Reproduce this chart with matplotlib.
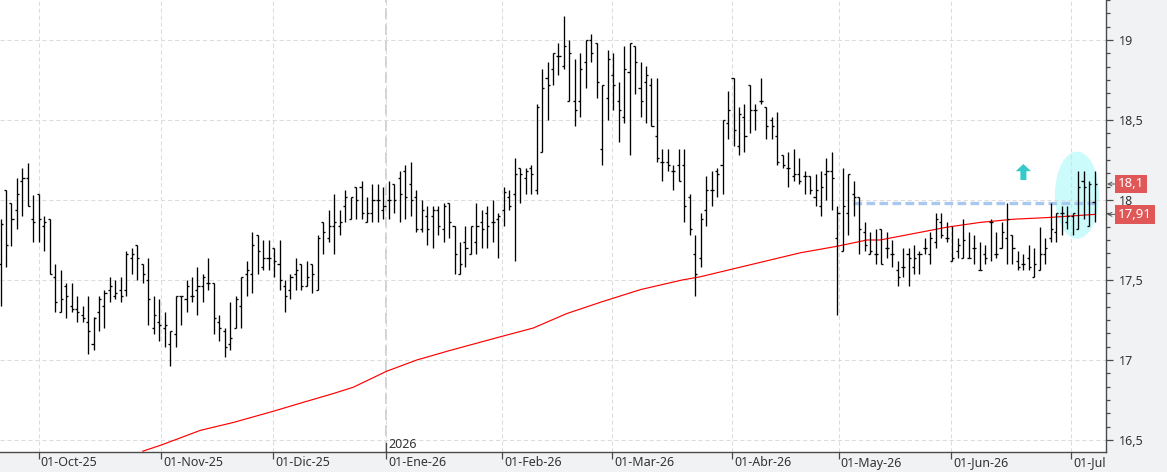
import numpy as np
import matplotlib
matplotlib.use('Agg')
import matplotlib.pyplot as plt
from matplotlib.collections import LineCollection
from matplotlib.patches import Ellipse, Polygon
from matplotlib.transforms import Bbox, TransformedBbox, blended_transform_factory
from matplotlib.ticker import MultipleLocator, FixedLocator, FuncFormatter

plt.rcParams['font.family'] = ['Noto Sans', 'DejaVu Sans']

# --- datos: barras diarias OHLC (indice de sesion 0..200) ---
opens = [
    17.60, 18.06, 17.98, 17.94, 18.12, 18.14, 17.88, 18.04, 17.84, 17.88,
    17.52, 17.30, 17.46, 17.34, 17.32, 17.28, 17.24, 17.10, 17.30, 17.34,
    17.44, 17.40, 17.44, 17.44, 17.64, 17.72, 17.60, 17.50, 17.20, 17.24,
    17.20, 17.10, 17.16, 17.40, 17.38, 17.40, 17.44, 17.46, 17.48, 17.48,
    17.24, 17.18, 17.10, 17.20, 17.34, 17.54, 17.54, 17.78, 17.58, 17.64,
    17.70, 17.60, 17.46, 17.44, 17.54,
    17.60, 17.46, 17.60, 17.44, 17.86, 17.76, 17.84, 17.84, 17.96, 17.88,
    18.08, 18.08, 17.86, 17.92, 18.00, 17.94, 18.00, 18.10, 18.14, 18.18,
    18.10, 18.02, 17.82, 17.90, 17.90, 17.94, 17.82, 17.98, 17.84, 17.54,
    17.74, 17.66, 17.74, 17.86, 17.92, 17.86, 17.88,
    17.94, 18.02, 18.04, 18.20, 18.14, 18.20, 18.06, 18.30, 18.76, 18.82,
    18.90, 18.84, 18.62, 18.62, 18.62, 18.86, 19.00, 18.98, 18.32, 18.64,
    18.78, 18.62, 18.52, 18.80, 18.96, 18.70, 18.74, 18.72, 18.40, 18.24,
    18.24, 18.18, 18.22, 18.22, 18.02, 17.66, 17.64,
    17.94, 18.06, 18.18, 18.22, 18.48, 18.76, 18.34, 18.52, 18.72, 18.56,
    18.62, 18.58, 18.50, 18.40, 18.28, 18.20, 18.15, 18.16, 18.15, 18.15,
    18.02, 17.96, 18.16, 18.18, 17.76, 17.68, 17.92, 18.04, 18.02, 17.80, 17.66, 17.66,
    17.82, 17.70, 17.66, 17.56, 17.58, 17.66, 17.58, 17.66, 17.70, 17.66,
    17.74, 17.86, 17.76, 17.62, 17.68, 17.64, 17.64, 17.70, 17.56, 17.66,
    17.86, 17.66, 17.70, 17.76, 17.78, 17.62, 17.60, 17.64, 17.52, 17.56,
    17.66, 17.76, 17.80, 17.92, 17.86, 17.90, 17.82, 18.12, 17.84, 17.99,
]
highs = [
    17.88, 18.06, 17.98, 18.14, 18.20, 18.23, 18.03, 18.04, 17.90, 17.88,
    17.60, 17.56, 17.48, 17.48, 17.40, 17.34, 17.40, 17.27, 17.40, 17.44,
    17.52, 17.50, 17.52, 17.68, 17.70, 17.72, 17.60, 17.64, 17.40, 17.38,
    17.30, 17.18, 17.40, 17.40, 17.50, 17.52, 17.58, 17.54, 17.64, 17.48,
    17.28, 17.20, 17.36, 17.40, 17.52, 17.62, 17.80, 17.78, 17.75, 17.75,
    17.70, 17.75, 17.50, 17.54, 17.64,
    17.60, 17.62, 17.60, 17.78, 17.86, 17.94, 18.04, 17.94, 18.06, 18.02,
    18.08, 18.12, 18.02, 18.10, 18.10, 18.08, 18.12, 18.10, 18.18, 18.22,
    18.24, 18.06, 18.00, 17.96, 17.96, 17.96, 17.98, 17.98, 17.84, 17.74,
    17.84, 17.84, 17.98, 17.94, 17.96, 18.00, 17.92,
    18.08, 18.06, 18.26, 18.20, 18.20, 18.22, 18.60, 18.82, 18.86, 18.92,
    18.98, 19.15, 19.00, 18.88, 18.92, 19.00, 19.04, 18.98, 18.72, 18.94,
    18.92, 18.74, 18.96, 18.98, 18.96, 18.86, 18.84, 18.76, 18.76, 18.32,
    18.32, 18.22, 18.32, 18.32, 18.04, 17.78, 17.92,
    18.15, 18.18, 18.20, 18.50, 18.68, 18.76, 18.58, 18.60, 18.72, 18.60,
    18.76, 18.58, 18.52, 18.55, 18.28, 18.30, 18.32, 18.26, 18.18, 18.15,
    18.16, 18.18, 18.26, 18.30, 17.96, 18.20, 18.16, 18.12, 18.02, 17.86, 17.80, 17.82,
    17.82, 17.80, 17.75, 17.62, 17.70, 17.70, 17.72, 17.68, 17.76, 17.80,
    17.92, 17.92, 17.86, 17.84, 17.76, 17.88, 17.80, 17.78, 17.74, 17.72,
    17.88, 17.80, 17.86, 17.98, 17.78, 17.68, 17.66, 17.72, 17.70, 17.83,
    17.76, 17.98, 17.92, 17.96, 17.96, 17.92, 18.18, 18.18, 18.12, 18.18,
]
lows = [
    17.34, 17.58, 17.71, 17.82, 17.90, 17.96, 17.74, 17.74, 17.68, 17.54,
    17.30, 17.30, 17.26, 17.30, 17.24, 17.24, 17.04, 17.06, 17.18, 17.20,
    17.36, 17.38, 17.36, 17.40, 17.54, 17.50, 17.48, 17.22, 17.16, 17.12,
    17.08, 16.96, 17.08, 17.22, 17.30, 17.36, 17.28, 17.36, 17.44, 17.16,
    17.12, 17.02, 17.06, 17.20, 17.20, 17.40, 17.42, 17.54, 17.56, 17.56,
    17.52, 17.44, 17.30, 17.38, 17.44,
    17.44, 17.46, 17.42, 17.44, 17.66, 17.74, 17.66, 17.78, 17.86, 17.88,
    17.88, 17.88, 17.86, 17.86, 17.86, 17.88, 17.88, 17.92, 17.86, 17.88,
    17.90, 17.80, 17.80, 17.72, 17.70, 17.78, 17.74, 17.76, 17.54, 17.54,
    17.58, 17.66, 17.66, 17.70, 17.70, 17.74, 17.64,
    17.84, 17.94, 17.62, 17.98, 18.04, 18.04, 18.04, 18.30, 18.50, 18.72,
    18.78, 18.82, 18.62, 18.46, 18.52, 18.70, 18.86, 18.64, 18.22, 18.50,
    18.56, 18.36, 18.48, 18.28, 18.66, 18.52, 18.48, 18.46, 18.24, 18.12,
    18.18, 18.06, 18.12, 17.86, 17.78, 17.40, 17.58,
    17.84, 17.96, 18.02, 18.04, 18.38, 18.34, 18.28, 18.30, 18.42, 18.44,
    18.60, 18.38, 18.38, 18.22, 18.20, 18.08, 18.12, 18.10, 18.04, 18.04,
    17.96, 17.90, 18.00, 17.94, 17.28, 17.68, 17.78, 17.90, 17.66, 17.68, 17.66, 17.60,
    17.60, 17.64, 17.58, 17.46, 17.52, 17.46, 17.54, 17.54, 17.66, 17.60,
    17.70, 17.76, 17.74, 17.62, 17.64, 17.64, 17.64, 17.60, 17.56, 17.60,
    17.62, 17.64, 17.70, 17.60, 17.60, 17.56, 17.56, 17.56, 17.52, 17.56,
    17.60, 17.74, 17.74, 17.78, 17.82, 17.78, 17.82, 17.88, 17.84, 17.86,
]
closes = [
    17.85, 17.72, 17.88, 18.04, 18.14, 17.96, 17.86, 17.88, 17.86, 17.54,
    17.36, 17.38, 17.40, 17.32, 17.30, 17.26, 17.18, 17.26, 17.38, 17.42,
    17.46, 17.42, 17.40, 17.66, 17.66, 17.64, 17.54, 17.38, 17.28, 17.22,
    17.22, 17.18, 17.40, 17.40, 17.46, 17.40, 17.46, 17.52, 17.48, 17.26,
    17.20, 17.08, 17.14, 17.38, 17.52, 17.56, 17.72, 17.68, 17.64, 17.64,
    17.62, 17.50, 17.40, 17.52, 17.56,
    17.46, 17.52, 17.54, 17.76, 17.80, 17.84, 17.86, 17.86, 18.02, 18.02,
    18.00, 17.92, 17.92, 18.00, 18.00, 17.96, 18.00, 18.00, 18.04, 18.02,
    18.00, 17.82, 17.94, 17.82, 17.94, 17.84, 17.96, 17.86, 17.66, 17.60,
    17.70, 17.84, 17.84, 17.82, 17.84, 17.86, 17.90,
    18.05, 17.96, 18.16, 18.16, 18.18, 18.16, 18.58, 18.70, 18.72, 18.92,
    18.90, 18.96, 18.92, 18.56, 18.82, 19.00, 18.92, 18.74, 18.72, 18.88,
    18.72, 18.56, 18.82, 18.98, 18.86, 18.62, 18.78, 18.46, 18.26, 18.24,
    18.22, 18.18, 18.12, 17.96, 17.82, 17.54, 17.88,
    18.06, 18.06, 18.16, 18.50, 18.56, 18.44, 18.54, 18.40, 18.56, 18.56,
    18.62, 18.46, 18.46, 18.24, 18.22, 18.20, 18.16, 18.12, 18.15, 18.06,
    18.06, 18.08, 18.18, 18.14, 17.92, 17.96, 18.16, 18.02, 17.82, 17.72, 17.68, 17.66,
    17.60, 17.70, 17.66, 17.52, 17.58, 17.64, 17.64, 17.66, 17.70, 17.76,
    17.88, 17.78, 17.76, 17.64, 17.72, 17.75, 17.64, 17.70, 17.56, 17.64,
    17.86, 17.66, 17.80, 17.88, 17.70, 17.58, 17.60, 17.58, 17.60, 17.66,
    17.70, 17.82, 17.92, 17.92, 17.90, 17.92, 18.08, 18.08, 18.10, 18.10,
]

ma_idx = [26, 29.5, 36.5, 42.6, 49.9, 54.8, 60.8, 64.5, 70.6, 76.1, 82.2, 91.9,
          97.4, 103.5, 109.6, 117, 124.6, 127.9, 134, 140.1, 146.2, 152.8,
          158.4, 160.8, 166.9, 173, 179.1, 185.2, 191.3, 195.7, 200]
ma_val = [16.43, 16.47, 16.56, 16.61, 16.68, 16.73, 16.79, 16.83, 16.93, 17.00,
          17.06, 17.15, 17.20, 17.29, 17.36, 17.44, 17.50, 17.52, 17.57, 17.62,
          17.67, 17.71, 17.75, 17.75, 17.79, 17.83, 17.86, 17.88, 17.89, 17.90,
          17.91]

# eje de fechas
month_pos = [7, 29.4, 49.9, 70.5, 91.7, 111.8, 133.8, 153.2, 173.8, 195.7]
month_lab = ['01-Oct-25', '01-Nov-25', '01-Dic-25', '01-Ene-26', '01-Feb-26',
             '01-Mar-26', '01-Abr-26', '01-May-26', '01-Jun-26', '01-Jul-26']
year_pos = 70.5

# resistencia y marcas
resist_level = 17.98
resist_from, resist_to = 155.8, 200.5
last_close = 18.1
last_ma = 17.91

W, H = 1167, 472
fig = plt.figure(figsize=(W / 100, H / 100), dpi=100, facecolor='#f1f2f4')
ax = fig.add_axes([0, 20 / H, 1106 / W, 452 / H])
ax.set_facecolor('white')

ax.set_xlim(-0.1, 202.1)
ax.set_ylim(16.425, 19.25)

# rejilla
ax.xaxis.set_major_locator(FixedLocator(month_pos))
ax.yaxis.set_major_locator(MultipleLocator(0.5))
ax.yaxis.set_minor_locator(MultipleLocator(0.5 / 6))
ax.grid(True, which='major', color='#dcdcdc', lw=0.75, ls=(0, (4, 2.7)), zorder=0)
ax.axvline(year_pos, color='#c4c4c4', lw=1.1, ls=(0, (7, 3.5)), zorder=0.5)

# zona resaltada
ax.add_patch(Ellipse((196.8, 18.03), width=8.1, height=0.545,
                     fc='#ccfbfc', ec='none', zorder=1))

# flecha verde-azulada
ax_x, ax_top, ax_bot = 187, 18.225, 18.125
head_h, head_w, stem_w = 0.045, 1.4, 0.55
arrow = Polygon([(ax_x, ax_top), (ax_x + head_w, ax_top - head_h),
                 (ax_x + stem_w, ax_top - head_h), (ax_x + stem_w, ax_bot),
                 (ax_x - stem_w, ax_bot), (ax_x - stem_w, ax_top - head_h),
                 (ax_x - head_w, ax_top - head_h)],
                closed=True, fc='#36c9c9', ec='none', zorder=3)
ax.add_patch(arrow)

# linea horizontal discontinua
ax.hlines(resist_level, resist_from, resist_to, colors='#a8c8f0', lw=2.4,
          linestyles=(0, (2.6, 1.3)), zorder=2)

# media movil
ax.plot(ma_idx, ma_val, color='#ff0000', lw=0.85, zorder=3)

# barras OHLC
x = np.arange(len(closes))
t = 0.38
segs = []
for i in x:
    segs.append([(i, lows[i]), (i, highs[i])])
    segs.append([(i - t, opens[i]), (i, opens[i])])
    segs.append([(i, closes[i]), (i + t, closes[i])])
ax.add_collection(LineCollection(segs, colors='black', linewidths=0.95, zorder=4))

# ejes
for s in ['top', 'left']:
    ax.spines[s].set_visible(False)
for s in ['right', 'bottom']:
    ax.spines[s].set_color('#4a4a4a')
    ax.spines[s].set_linewidth(1.0)

ax.yaxis.tick_right()
ax.yaxis.set_major_formatter(FuncFormatter(lambda v, p: ('%g' % v).replace('.', ',')))
ax.tick_params(axis='y', which='major', length=5, width=0.9, color='#4a4a4a',
               labelsize=9, labelcolor='#333333', pad=4)
ax.tick_params(axis='y', which='minor', length=3, width=0.9, color='#4a4a4a')
ax.tick_params(axis='x', which='major', length=5, width=0.9, color='#4a4a4a',
               labelbottom=False)

# etiquetas de fecha (recortadas en el borde derecho)
clip = TransformedBbox(Bbox([[0, 0], [1106 / W, 20 / H]]), fig.transFigure)
trans_x = blended_transform_factory(ax.transData, ax.transAxes)
for p, lab in zip(month_pos, month_lab):
    txt = ax.text(p + 0.35, -11 / 452, lab, transform=trans_x, ha='left', va='center',
                  fontsize=9, color='#333333', clip_on=True)
    txt.set_clip_box(clip)
ax.plot([year_pos, year_pos], [0, 9 / 452], transform=trans_x, color='#4a4a4a',
        lw=0.9, clip_on=False, zorder=5)
ax.text(year_pos + 0.35, 8 / 452, '2026', transform=trans_x, ha='left', va='center',
        fontsize=9, color='#333333')

# etiquetas de precio
trans_y = blended_transform_factory(ax.transAxes, ax.transData)
for val, lab in [(last_close, '18,1'), (last_ma, '17,91')]:
    ax.annotate('', xy=(1 + 1 / 1106, val), xycoords=trans_y,
                xytext=(1 + 9 / 1106, val), textcoords=trans_y,
                arrowprops=dict(arrowstyle='->', color='#555555', lw=0.7,
                                shrinkA=0, shrinkB=0, mutation_scale=7),
                annotation_clip=False)
    ax.text(1 + 12 / 1106, val, lab, transform=trans_y, ha='left', va='center',
            fontsize=9.5, color='white', clip_on=False, zorder=6,
            bbox=dict(boxstyle='square,pad=0.2', fc='#e05757', ec='none'))

fig.savefig('out.png', dpi=100, facecolor=fig.get_facecolor())
